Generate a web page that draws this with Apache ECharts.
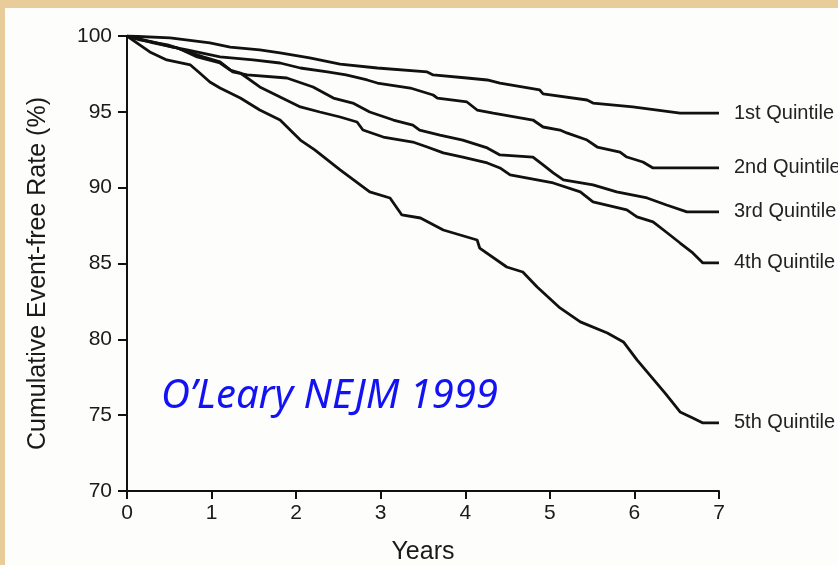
<!DOCTYPE html>
<html>
<head>
<meta charset="utf-8">
<script src="https://cdn.jsdelivr.net/npm/echarts@6/dist/echarts.min.js"></script>
<style>
  html, body { margin: 0; padding: 0; background: #e8cd9a; }
  #main { width: 838px; height: 565px; }
</style>
</head>
<body>
<div id="main"></div>
<script>
// [years, cumulative event-free rate %]
const q1 = [[0, 100], [0.51, 99.87], [0.98, 99.54], [1.22, 99.27], [1.57, 99.08], [1.81, 98.88],
  [2.16, 98.55], [2.52, 98.15], [2.96, 97.89], [3.55, 97.63], [3.62, 97.43], [4.02, 97.23],
  [4.26, 97.1], [4.41, 96.9], [4.88, 96.44], [4.92, 96.18], [5.44, 95.78], [5.51, 95.58],
  [5.98, 95.32], [6.54, 94.92], [7, 94.92]]
const q2 = [[0, 100], [0.31, 99.6], [0.54, 99.27], [0.71, 99.08], [1.1, 98.62], [1.49, 98.42],
  [1.81, 98.22], [2.05, 97.89], [2.37, 97.63], [2.59, 97.43], [2.84, 97.1], [2.96, 96.9],
  [3.35, 96.57], [3.62, 96.11], [3.67, 95.91], [4.02, 95.65], [4.14, 95.12], [4.33, 94.92],
  [4.8, 94.46], [4.92, 94.0], [5.12, 93.8], [5.2, 93.61], [5.44, 93.14], [5.56, 92.68],
  [5.83, 92.35], [5.91, 92.02], [6.1, 91.69], [6.22, 91.3], [7, 91.3]]
const q3 = [[0, 100], [0.31, 99.54], [0.59, 99.21], [0.9, 98.62], [1.1, 98.29], [1.25, 97.63],
  [1.42, 97.43], [1.89, 97.23], [2.2, 96.64], [2.44, 95.91], [2.67, 95.58], [2.87, 94.99],
  [3.15, 94.46], [3.38, 94.13], [3.46, 93.8], [3.7, 93.47], [3.97, 93.14], [4.26, 92.62],
  [4.41, 92.16], [4.8, 92.02], [4.92, 91.5], [5.04, 90.97], [5.16, 90.51], [5.51, 90.18],
  [5.79, 89.72], [6.15, 89.32], [6.38, 88.86], [6.62, 88.4], [7, 88.4]]
const q4 = [[0, 100], [0.15, 99.74], [0.48, 99.41], [0.6, 99.21], [0.83, 98.62], [1.1, 98.22],
  [1.22, 97.76], [1.34, 97.56], [1.57, 96.64], [1.81, 95.98], [2.05, 95.32], [2.28, 94.99],
  [2.52, 94.66], [2.72, 94.33], [2.79, 93.8], [3.03, 93.34], [3.38, 93.01], [3.55, 92.68],
  [3.74, 92.29], [3.97, 92.02], [4.26, 91.63], [4.41, 91.3], [4.53, 90.84], [5.04, 90.31],
  [5.36, 89.72], [5.51, 89.06], [5.91, 88.53], [6.03, 88.07], [6.22, 87.74], [6.39, 87.01],
  [6.54, 86.35], [6.69, 85.7], [6.81, 85.04], [7, 85.04]]
const q5 = [[0, 100], [0.15, 99.41], [0.27, 98.95], [0.47, 98.42], [0.75, 98.09], [0.86, 97.56],
  [0.98, 96.97], [1.1, 96.57], [1.34, 95.91], [1.57, 95.12], [1.81, 94.46], [1.93, 93.8],
  [2.05, 93.14], [2.22, 92.49], [2.52, 91.17], [2.87, 89.72], [3.11, 89.32], [3.25, 88.2],
  [3.47, 88.0], [3.74, 87.21], [4.14, 86.55], [4.17, 86.02], [4.49, 84.77], [4.68, 84.44],
  [4.85, 83.45], [5.12, 82.07], [5.36, 81.15], [5.68, 80.42], [5.87, 79.83], [6.03, 78.64],
  [6.15, 77.85], [6.36, 76.47], [6.54, 75.21], [6.69, 74.82], [6.81, 74.49], [7, 74.49]]

const seriesNames = ['1st Quintile', '2nd Quintile', '3rd Quintile', '4th Quintile', '5th Quintile']
const seriesData = [q1, q2, q3, q4, q5]

const chart = echarts.init(document.getElementById('main'))
const font = 'Liberation Sans, Arial, sans-serif'

chart.setOption({
  backgroundColor: '#e8cd9a',
  animation: false,
  graphic: [
    {
      type: 'rect',
      z: -10,
      shape: { x: 5, y: 8, width: 840, height: 560 },
      style: { fill: '#fdfdfb' }
    },
    {
      type: 'text',
      left: 161,
      top: 377,
      style: {
        text: 'O\u2019Leary NEJM 1999',
        fill: '#1212f4',
        font: 'italic 40px "Noto Sans", sans-serif'
      }
    }
  ],
  grid: { left: 127, right: 119, top: 36, bottom: 74, outerBoundsMode: 'none' },
  xAxis: {
    type: 'value',
    min: 0,
    max: 7,
    interval: 1,
    name: 'Years',
    nameLocation: 'middle',
    nameGap: 49,
    nameTextStyle: { fontFamily: font, fontSize: 25, color: '#1a1a1a' },
    axisLine: { lineStyle: { color: '#111', width: 2 } },
    axisTick: { length: 8, lineStyle: { color: '#111', width: 2 } },
    axisLabel: { margin: 12, fontFamily: font, fontSize: 21, color: '#1a1a1a' },
    splitLine: { show: false }
  },
  yAxis: {
    type: 'value',
    min: 70,
    max: 100,
    interval: 5,
    name: 'Cumulative Event-free Rate (%)',
    nameLocation: 'middle',
    nameGap: 76,
    nameTextStyle: { fontFamily: font, fontSize: 25, color: '#1a1a1a', padding: [0, 20, 0, 0] },
    axisLine: { show: true, lineStyle: { color: '#111', width: 2 } },
    axisTick: { show: true, length: 9, lineStyle: { color: '#111', width: 2 } },
    axisLabel: { margin: 15, fontFamily: font, fontSize: 21, color: '#1a1a1a' },
    splitLine: { show: false }
  },
  series: seriesData.map((d, i) => ({
    name: seriesNames[i],
    type: 'line',
    data: d,
    showSymbol: false,
    lineStyle: { color: '#111', width: 2.8 },
    endLabel: {
      show: true,
      formatter: '{a}',
      distance: 15,
      fontFamily: font,
      fontSize: 20,
      color: '#222'
    }
  }))
})
</script>
</body>
</html>
